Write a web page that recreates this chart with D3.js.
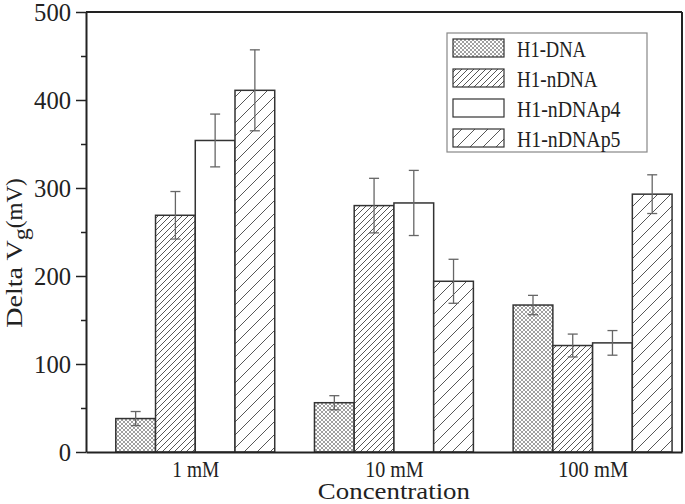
<!DOCTYPE html>
<html>
<head>
<meta charset="utf-8">
<script src="https://cdn.jsdelivr.net/npm/d3@7"></script>
<style>
  body { margin: 0; background: #fff; }
  text { font-family: "Liberation Serif", "DejaVu Serif", serif; fill: #222; }
</style>
</head>
<body>
<div id="chart"></div>
<script>
// data
var categories = ["1 mM", "10 mM", "100 mM"];
var seriesNames = ["H1-DNA", "H1-nDNA", "H1-nDNAp4", "H1-nDNAp5"];
var dnaValues = [38, 56, 167];
var dnaErrors = [8, 8, 11];
var ndnaValues = [269, 280, 121];
var ndnaErrors = [27, 31, 13];
var p4Values = [354, 283, 124];
var p4Errors = [30, 37, 14];
var p5Values = [411, 194, 293];
var p5Errors = [46, 25, 22];
var yTicks = [0, 100, 200, 300, 400, 500];

var svgWidth = 685;
var svgHeight = 504;
var margin = { top: 12, right: 3, bottom: 52, left: 86 };
var width = svgWidth - margin.left - margin.right;
var height = svgHeight - margin.top - margin.bottom;

// the original font has half-width (monospaced) latin glyphs
var charW = 11.7;
function mono(sel, w) {
  sel.each(function() {
    var n = this.textContent.length;
    d3.select(this).attr("textLength", n * (w || charW))
      .attr("lengthAdjust", "spacingAndGlyphs");
  });
}

var svg = d3.select("#chart")
  .append("svg")
  .attr("width", svgWidth)
  .attr("height", svgHeight);

// fill patterns
var defs = svg.append("defs");
var cross = defs.append("pattern").attr("id", "pCross")
  .attr("patternUnits", "userSpaceOnUse").attr("width", 4).attr("height", 4);
cross.append("rect").attr("width", 4).attr("height", 4).attr("fill", "#fff");
cross.append("path").attr("d", "M0,0 L4,4 M4,0 L0,4")
  .attr("stroke", "#888").attr("stroke-width", 0.8);

var dense = defs.append("pattern").attr("id", "pDense")
  .attr("patternUnits", "userSpaceOnUse").attr("width", 6).attr("height", 6);
dense.append("rect").attr("width", 6).attr("height", 6).attr("fill", "#fff");
dense.append("path").attr("d", "M-1,7 L7,-1 M-1,1 L1,-1 M5,7 L7,5")
  .attr("stroke", "#444").attr("stroke-width", 0.9);

var sparse = defs.append("pattern").attr("id", "pSparse")
  .attr("patternUnits", "userSpaceOnUse").attr("width", 13).attr("height", 13);
sparse.append("rect").attr("width", 13).attr("height", 13).attr("fill", "#fff");
sparse.append("path").attr("d", "M-1,14 L14,-1 M-1,1 L1,-1 M12,14 L14,12")
  .attr("stroke", "#444").attr("stroke-width", 0.9);

var fills = ["url(#pCross)", "url(#pDense)", "#fff", "url(#pSparse)"];

var chartGroup = svg.append("g")
  .attr("transform", `translate(${margin.left}, ${margin.top})`);

// scales: x in group units
var xScale = d3.scaleLinear()
  .domain([-0.55, 2.45])
  .range([0, width]);
var barW = 0.2;

var yScale = d3.scaleLinear()
  .domain([0, 500])
  .range([height, 0]);

var series = [
  { name: seriesNames[0], values: dnaValues, errors: dnaErrors },
  { name: seriesNames[1], values: ndnaValues, errors: ndnaErrors },
  { name: seriesNames[2], values: p4Values, errors: p4Errors },
  { name: seriesNames[3], values: p5Values, errors: p5Errors }
];

var bars = [];
categories.forEach(function(c, i) {
  series.forEach(function(s, j) {
    bars.push({ cat: i, s: j, v: s.values[i], e: s.errors[i] });
  });
});

// bars
chartGroup.selectAll("rect.bar")
  .data(bars).enter().append("rect")
  .attr("class", "bar")
  .attr("x", d => xScale(d.cat + (d.s - 2) * barW))
  .attr("width", xScale(barW) - xScale(0))
  .attr("y", d => yScale(d.v))
  .attr("height", d => height - yScale(d.v))
  .attr("fill", d => fills[d.s])
  .attr("stroke", "#333")
  .attr("stroke-width", 1.5);

// error bars
var errG = chartGroup.append("g").attr("stroke", "#666").attr("stroke-width", 1.3);
bars.forEach(function(d) {
  var cx = xScale(d.cat + (d.s - 1.5) * barW);
  errG.append("line").attr("x1", cx).attr("x2", cx)
    .attr("y1", yScale(d.v + d.e)).attr("y2", yScale(d.v - d.e));
  [d.v + d.e, d.v - d.e].forEach(function(v) {
    errG.append("line").attr("x1", cx - 5).attr("x2", cx + 5)
      .attr("y1", yScale(v)).attr("y2", yScale(v));
  });
});

// y axis with minor ticks
var minorTicks = d3.range(50, 500, 100);
chartGroup.append("g")
  .call(d3.axisLeft(yScale).tickValues(minorTicks).tickSize(5).tickFormat(""))
  .call(g => g.select(".domain").remove())
  .selectAll("line").attr("stroke", "#222").attr("stroke-width", 1.5);

var leftAxis = d3.axisLeft(yScale).tickValues(yTicks).tickSize(10).tickPadding(5).tickSizeOuter(0);
var yG = chartGroup.append("g").call(leftAxis);
yG.select(".domain").attr("stroke", "#222").attr("stroke-width", 2);
yG.selectAll("line").attr("stroke", "#222").attr("stroke-width", 1.5);
yG.selectAll("text").attr("font-size", 25).attr("font-family", "Liberation Serif")
  .attr("fill", "#222").attr("dy", "0.33em").call(mono, 12.3);

// bottom axis (no tick marks)
var bottomAxis = d3.axisBottom(xScale).tickValues([0, 1, 2])
  .tickFormat(i => categories[i]).tickSize(0).tickPadding(9).tickSizeOuter(0);
var xG = chartGroup.append("g")
  .attr("transform", `translate(0, ${height})`)
  .call(bottomAxis);
xG.select(".domain").attr("stroke", "#222").attr("stroke-width", 2);
xG.selectAll("text").attr("font-size", 23).attr("font-family", "Liberation Serif")
  .attr("fill", "#222").call(mono);

// top and right frame
chartGroup.append("line").attr("x1", 0).attr("x2", width).attr("y1", 0).attr("y2", 0)
  .attr("stroke", "#222").attr("stroke-width", 2);
chartGroup.append("line").attr("x1", width).attr("x2", width).attr("y1", 0).attr("y2", height)
  .attr("stroke", "#222").attr("stroke-width", 2);

// axis titles
chartGroup.append("text")
  .attr("x", xScale(1))
  .attr("y", height + 47)
  .attr("text-anchor", "middle")
  .attr("font-size", 23)
  .text("Concentration")
  .call(mono);

var yt = svg.append("text")
  .attr("transform", `translate(22, 253) rotate(-90)`)
  .attr("text-anchor", "middle")
  .attr("font-size", 24);
yt.append("tspan").text("Delta V").call(mono, 12.5);
yt.append("tspan").attr("dy", 6).attr("font-size", 20).text("g").call(mono, 12);
yt.append("tspan").attr("dy", -6).text("(mV)").call(mono, 12.5);

// legend
var legend = svg.append("g").attr("transform", "translate(447, 33)");
legend.append("rect").attr("width", 200).attr("height", 119)
  .attr("fill", "#fff").attr("stroke", "#888").attr("stroke-width", 1.2);
var rows = legend.selectAll("g.row").data(seriesNames).enter().append("g")
  .attr("transform", (d, i) => `translate(6, ${15 + i * 30})`);
rows.append("rect").attr("x", 0).attr("y", -9).attr("width", 51).attr("height", 18)
  .attr("fill", (d, i) => fills[i]).attr("stroke", "#333").attr("stroke-width", 1.2);
rows.append("text").attr("x", 64).attr("y", 1).attr("dy", "0.35em")
  .attr("font-size", 24).text(d => d).call(mono, 11.5);
</script>
</body>
</html>
